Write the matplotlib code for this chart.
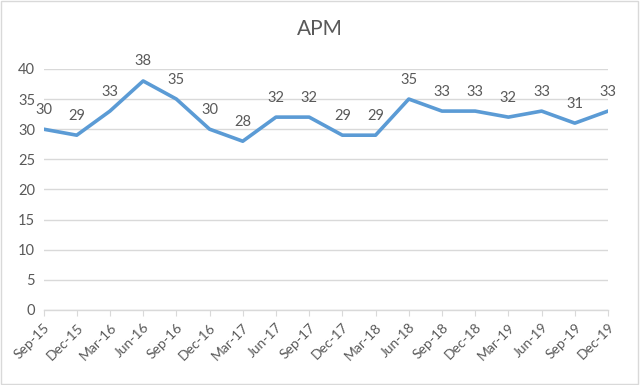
import matplotlib.pyplot as plt
from matplotlib.patches import Rectangle

months = ["Sep-15", "Dec-15", "Mar-16", "Jun-16", "Sep-16", "Dec-16", "Mar-17", "Jun-17", "Sep-17",
          "Dec-17", "Mar-18", "Jun-18", "Sep-18", "Dec-18", "Mar-19", "Jun-19", "Sep-19", "Dec-19"]
apm = [30, 29, 33, 38, 35, 30, 28, 32, 32, 29, 29, 35, 33, 33, 32, 33, 31, 33]

plt.rcParams['font.family'] = ['Lato', 'DejaVu Sans']
text_color = '#595959'

fig = plt.figure(figsize=(6.4, 3.85), dpi=100)
ax = fig.add_axes([0.068, 0.195, 0.882, 0.626])

x = range(len(months))
ax.plot(x, apm, color='#5B9BD5', linewidth=2.6, solid_joinstyle='round')
for i, v in zip(x, apm):
    ax.annotate(str(v), (i, v), xytext=(0, 9), textcoords='offset points',
                ha='center', va='bottom', fontsize=10.5, color=text_color)

ax.set_ylim(0, 40)
ax.set_yticks(range(0, 41, 5))
ax.set_xlim(0, len(months) - 1)
ax.set_xticks(list(x))
ax.set_xticklabels(months, rotation=45, ha='right', rotation_mode='anchor')
ax.tick_params(axis='x', length=4, color='#D9D9D9', labelsize=10, labelcolor=text_color, pad=4)
ax.tick_params(axis='y', length=0, labelsize=10.5, labelcolor=text_color, pad=6)
ax.grid(axis='y', color='#D9D9D9', linewidth=1)
ax.set_axisbelow(True)
for s in ['top', 'right', 'left']:
    ax.spines[s].set_visible(False)
ax.spines['bottom'].set_color('#D9D9D9')
ax.spines['bottom'].set_linewidth(1)
ax.patch.set_alpha(0)

fig.text(0.5, 0.925, "APM", ha='center', va='center', fontsize=15, color=text_color)
fig.patches.append(Rectangle((0.002, 0.003), 0.995, 0.994, transform=fig.transFigure,
                             fill=False, edgecolor='#D9D9D9', linewidth=1))

fig.savefig("out.png", dpi=100)
